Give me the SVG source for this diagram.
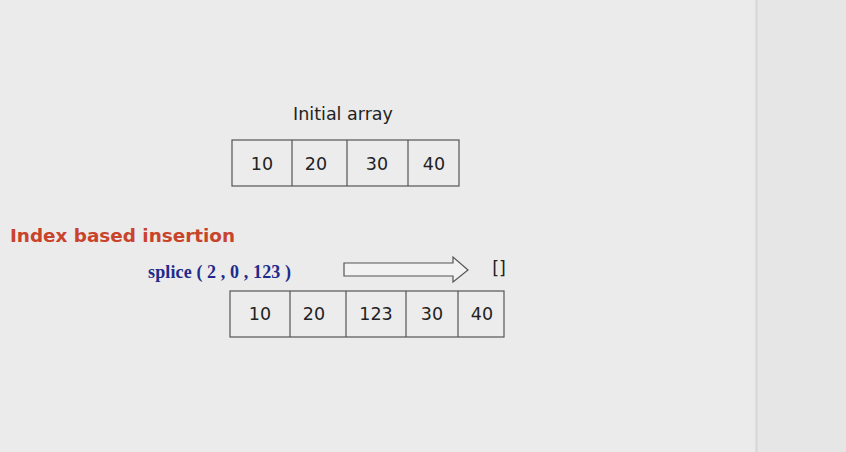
<svg xmlns="http://www.w3.org/2000/svg" width="846" height="452" viewBox="0 0 846 452">
<style>
.cell{fill:#ececec;stroke:#555;stroke-width:1.2}
.num{font-family:"DejaVu Sans",Verdana,sans-serif;font-size:17.5px;fill:#222;text-anchor:middle}
</style>
<rect width="846" height="452" fill="#ebebeb"/>
<rect x="756" y="0" width="90" height="452" fill="#e6e6e6"/>
<line x1="756.5" y1="0" x2="756.5" y2="452" stroke="#d6d6d6" stroke-width="2"/>
<g id="title"><text x="343" y="120" class="num" font-size="18.5">Initial array</text></g>
<g id="initial-array">
<rect class="cell" x="232" y="140" width="227" height="46"/>
<line class="cell" x1="292" y1="140" x2="292" y2="186"/>
<line class="cell" x1="347" y1="140" x2="347" y2="186"/>
<line class="cell" x1="408" y1="140" x2="408" y2="186"/>
<text class="num" x="262" y="170">10</text>
<text class="num" x="316" y="170">20</text>
<text class="num" x="377" y="170">30</text>
<text class="num" x="434" y="170">40</text>
</g>
<g id="heading"><text x="10" y="242" font-family="'DejaVu Sans',Verdana,sans-serif" font-weight="bold" font-size="18" textLength="225" lengthAdjust="spacingAndGlyphs" fill="#c9432b">Index based insertion</text></g>
<g id="splice"><text x="148" y="278" font-family="'Liberation Serif','Times New Roman',serif" font-weight="bold" font-size="18" textLength="143" fill="#1f2a8c">splice ( 2 , 0 , 123 )</text></g>
<g id="connectors">
<path d="M344,263 H453 V257 L468,270 L453,282 V276 H344 Z" fill="#f2f2f2" stroke="#555" stroke-width="1.2"/>
</g>
<g id="result"><text class="num" x="499" y="274">[]</text></g>
<g id="result-array">
<rect class="cell" x="230" y="291" width="274" height="46"/>
<line class="cell" x1="290" y1="291" x2="290" y2="337"/>
<line class="cell" x1="346" y1="291" x2="346" y2="337"/>
<line class="cell" x1="406" y1="291" x2="406" y2="337"/>
<line class="cell" x1="458" y1="291" x2="458" y2="337"/>
<text class="num" x="260" y="320">10</text>
<text class="num" x="314" y="320">20</text>
<text class="num" x="376" y="320">123</text>
<text class="num" x="432" y="320">30</text>
<text class="num" x="482" y="320">40</text>
</g>
</svg>
